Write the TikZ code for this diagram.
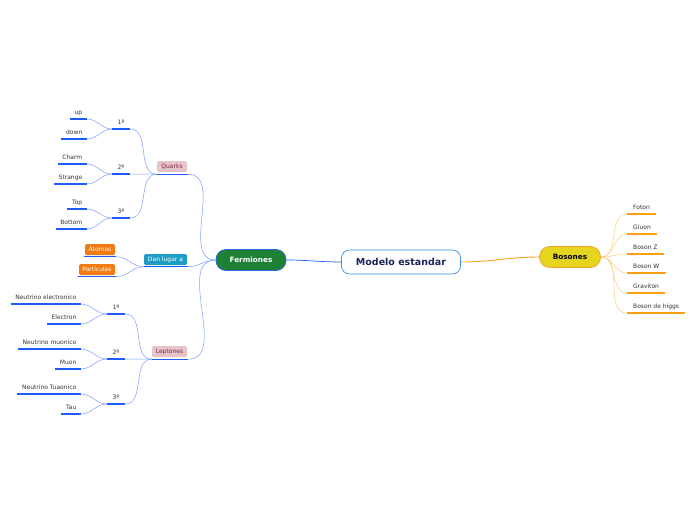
\documentclass[tikz,border=0pt]{standalone}
\usepackage{fontspec}
\setmainfont{DejaVu Sans}
\definecolor{connblue}{HTML}{7B9CFF}
\definecolor{ulblue}{HTML}{1F5BFF}
\definecolor{leaftext}{HTML}{333333}
\definecolor{modborder}{HTML}{3A8DDB}
\definecolor{modtext}{HTML}{1A2657}
\definecolor{fermfill}{HTML}{1D8034}
\definecolor{fermborder}{HTML}{2F63E0}
\definecolor{bosfill}{HTML}{E6D520}
\definecolor{bosborder}{HTML}{F2A12A}
\definecolor{bosconn}{HTML}{FFD28A}
\definecolor{bosul}{HTML}{FFA010}
\definecolor{modbos}{HTML}{FFA21C}
\definecolor{pinkfill}{HTML}{E6C4C9}
\definecolor{pinktext}{HTML}{7A2C3A}
\definecolor{tealfill}{HTML}{1E9DC4}
\definecolor{orangefill}{HTML}{F27A12}
\begin{document}
\begin{tikzpicture}[x=1pt,y=-1pt,
  leaf/.style={font=\fontsize{6}{7}\selectfont, text=leaftext, inner xsep=4.5pt, inner ysep=2pt, text height=4.5pt, text depth=2.5pt},
  bleaf/.style={leaf, anchor=south west, inner xsep=6pt},
  ul/.style={draw=ulblue, line width=1.2pt},
  bul/.style={draw=bosul, line width=1.2pt},
  conn/.style={draw=connblue, line width=0.5pt},
  bconn/.style={draw=bosconn, line width=0.6pt},
  smallbox/.style={font=\fontsize{6}{7}\selectfont, rounded corners=1.5pt, minimum height=11pt, inner xsep=2.5pt, inner ysep=0pt, text height=4.5pt, text depth=1.2pt},
  pinkbox/.style={smallbox, fill=pinkfill, text=pinktext},
  tealbox/.style={smallbox, fill=tealfill, text=white},
  orangebox/.style={smallbox, fill=orangefill, text=white},
]
\useasboundingbox (0,0) rectangle (696,520);

% main nodes
\node[draw=modborder, line width=0.7pt, fill=white, rounded corners=8pt, minimum width=119pt, minimum height=24pt, inner sep=0pt, text=modtext, font=\fontsize{9.5}{10}\selectfont\bfseries] (modelo) at (401,262) {Modelo estandar};
\node[draw=fermborder, line width=0.8pt, fill=fermfill, rounded corners=10pt, minimum width=70pt, minimum height=21pt, inner sep=0pt, text=white, font=\fontsize{7.3}{8}\selectfont\bfseries] (ferm) at (251,260) {Fermiones};
\node[draw=bosborder, line width=0.7pt, fill=bosfill, rounded corners=10pt, minimum width=61pt, minimum height=21pt, inner sep=0pt, text=black, font=\fontsize{7.3}{8}\selectfont\bfseries] (bos) at (570,257) {Bosones};

\draw[draw=ulblue, line width=0.7pt] (ferm.east) to[out=0,in=180] (modelo.west);
\draw[draw=modbos, line width=0.9pt] (modelo.east) to[out=0,in=180] (bos.west);

% Quarks branch
\node[pinkbox, minimum width=30pt] (quarks) at (172,166.5) {Quarks};
\coordinate (quarksL) at ([yshift=-2pt]quarks.south west);
\coordinate (quarksR) at ([yshift=-2pt,xshift=1pt]quarks.south east);
\node[leaf, anchor=south, minimum width=18pt] (q1) at (121,129) {1ª};
\node[leaf, anchor=south, minimum width=18pt] (q2) at (121,174) {2ª};
\node[leaf, anchor=south, minimum width=18pt] (q3) at (121,218) {3ª};
\node[leaf, anchor=south east] (up) at (87,119) {up};
\node[leaf, anchor=south east] (down) at (87,139) {down};
\node[leaf, anchor=south east] (charm) at (87,164) {Charm};
\node[leaf, anchor=south east] (strange) at (87,184) {Strange};
\node[leaf, anchor=south east] (top) at (87,209) {Top};
\node[leaf, anchor=south east] (bottom) at (87,229) {Bottom};

% Dan lugar a branch
\node[tealbox, minimum width=43pt] (dan) at (165.5,259.5) {Dan lugar a};
\coordinate (danL) at ([yshift=-1.5pt]dan.south west);
\coordinate (danR) at ([yshift=-1.5pt,xshift=1pt]dan.south east);
\node[orangebox, minimum width=30pt] (atomos) at (100,249.5) {Átomos};
\coordinate (atomosL) at ([yshift=-1.5pt,xshift=-1pt]atomos.south west);
\coordinate (atomosR) at ([yshift=-1.5pt,xshift=1pt]atomos.south east);
\node[orangebox, minimum width=36pt] (part) at (97,269.5) {Partículas};
\coordinate (partL) at ([yshift=-1.5pt,xshift=-1pt]part.south west);
\coordinate (partR) at ([yshift=-1.5pt,xshift=1pt]part.south east);

% Leptones branch
\node[pinkbox, minimum width=35pt] (lept) at (169.5,351.5) {Leptones};
\coordinate (leptL) at ([yshift=-2pt]lept.south west);
\coordinate (leptR) at ([yshift=-2pt,xshift=1pt]lept.south east);
\node[leaf, anchor=south, minimum width=18pt] (l1) at (116,314) {1ª};
\node[leaf, anchor=south, minimum width=18pt] (l2) at (116,359) {2ª};
\node[leaf, anchor=south, minimum width=18pt] (l3) at (116,404) {3ª};
\node[leaf, anchor=south east] (nelec) at (81,304) {Neutrino electronico};
\node[leaf, anchor=south east] (elec) at (81,324) {Electron};
\node[leaf, anchor=south east] (nmuon) at (81,349) {Neutrino muonico};
\node[leaf, anchor=south east] (muon) at (81,369) {Muon};
\node[leaf, anchor=south east] (ntau) at (81,394) {Neutrino Tuaonico};
\node[leaf, anchor=south east] (tau) at (81,414) {Tau};

% Bosones children
\node[bleaf] (foton) at (627,214) {Foton};
\node[bleaf] (gluon) at (627,234) {Gluon};
\node[bleaf] (bz) at (627,254) {Boson Z};
\node[bleaf] (bw) at (627,273) {Boson W};
\node[bleaf] (grav) at (627,293) {Graviton};
\node[bleaf] (higgs) at (627,313) {Boson de higgs};

% connectors (blue)
\draw[conn] (ferm.west) to[out=180,in=0] (quarksR);
\draw[conn] (ferm.west) to[out=180,in=0] (danR);
\draw[conn] (ferm.west) to[out=180,in=0] (leptR);
\foreach \s in {q1,q2,q3}{\draw[conn] (quarksL) to[out=180,in=0] (\s.south east);}
\draw[conn] (q1.south west) to[out=180,in=0] (up.south east);
\draw[conn] (q1.south west) to[out=180,in=0] (down.south east);
\draw[conn] (q2.south west) to[out=180,in=0] (charm.south east);
\draw[conn] (q2.south west) to[out=180,in=0] (strange.south east);
\draw[conn] (q3.south west) to[out=180,in=0] (top.south east);
\draw[conn] (q3.south west) to[out=180,in=0] (bottom.south east);
\draw[conn] (danL) to[out=180,in=0] (atomosR);
\draw[conn] (danL) to[out=180,in=0] (partR);
\foreach \s in {l1,l2,l3}{\draw[conn] (leptL) to[out=180,in=0] (\s.south east);}
\draw[conn] (l1.south west) to[out=180,in=0] (nelec.south east);
\draw[conn] (l1.south west) to[out=180,in=0] (elec.south east);
\draw[conn] (l2.south west) to[out=180,in=0] (nmuon.south east);
\draw[conn] (l2.south west) to[out=180,in=0] (muon.south east);
\draw[conn] (l3.south west) to[out=180,in=0] (ntau.south east);
\draw[conn] (l3.south west) to[out=180,in=0] (tau.south east);

% connectors (orange)
\foreach \s in {foton,gluon,bz,bw,grav,higgs}{\draw[bconn] (bos.east) to[out=0,in=180] (\s.south west);}

% underlines
\draw[ul] (quarksL) -- (quarksR);
\draw[ul] (leptL) -- (leptR);
\draw[ul] (danL) -- (danR);
\draw[ul] (atomosL) -- (atomosR);
\draw[ul] (partL) -- (partR);
\foreach \s in {q1,q2,q3,up,down,charm,strange,top,bottom,l1,l2,l3,nelec,elec,nmuon,muon,ntau,tau}{\draw[ul] (\s.south west) -- (\s.south east);}
\foreach \s in {foton,gluon,bz,bw,grav,higgs}{\draw[bul] (\s.south west) -- (\s.south east);}
\end{tikzpicture}
\end{document}
